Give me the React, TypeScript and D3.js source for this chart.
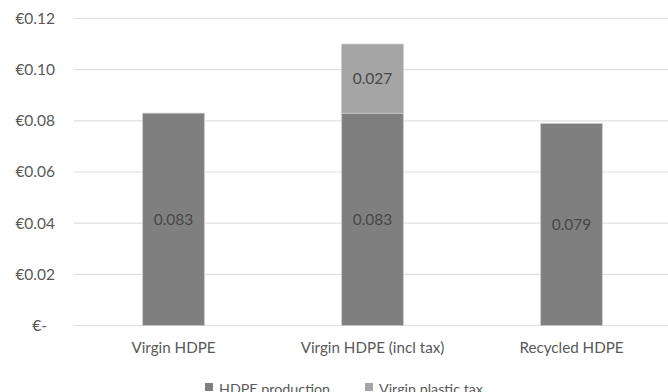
import React from "react";
import * as d3 from "d3";

// Categories and stacked series values (EUR per unit)
const categories = ["Virgin HDPE", "Virgin HDPE (incl tax)", "Recycled HDPE"];
const productionValues = [0.083, 0.083, 0.079];
const taxValues = [0, 0.027, 0];
const seriesNames = ["HDPE production", "Virgin plastic tax"];
const yTicks = [0, 0.02, 0.04, 0.06, 0.08, 0.1, 0.12];

const WIDTH = 668;
const HEIGHT = 392;
const FONT = "Lato, 'Open Sans', sans-serif";
const FS = 15.2;
const LEGEND_FS = 14.3;
const TEXT = "#595959";
const COLORS = ["#7f7f7f", "#a5a5a5"];

export default function App() {
  const x = d3
    .scaleBand<string>()
    .domain(categories)
    .range([74, 671])
    .paddingInner(0.69)
    .paddingOuter(0.345);
  const y = d3.scaleLinear().domain([0, 0.12]).range([325.5, 18.5]);

  const rows = categories.map((c, i) => ({
    category: c,
    production: productionValues[i],
    tax: taxValues[i],
  }));
  const stack = d3.stack<any>().keys(["production", "tax"]);
  const layers = stack(rows);

  const fmtTick = (v: number) => (v === 0 ? "€-" : "€" + d3.format(".2f")(v));

  return (
    <div style={{ position: "fixed", left: 0, top: 0 }}>
      <svg width={WIDTH} height={HEIGHT} style={{ display: "block", background: "#fff" }}>
        {/* gridlines */}
        {yTicks.map((t) => (
          <line
            key={"g" + t}
            x1={74}
            x2={WIDTH}
            y1={y(t)}
            y2={y(t)}
            stroke="#e0e0e0"
            strokeWidth={1.2}
          />
        ))}
        {/* y tick labels */}
        {yTicks.map((t) => (
          <text
            key={"t" + t}
            x={t === 0 ? 47 : 55}
            y={y(t)}
            dy="0.35em"
            textAnchor="end"
            fontFamily={FONT}
            fontSize={15.5}
            fill={TEXT}
          >
            {fmtTick(t)}
          </text>
        ))}
        {/* stacked bars */}
        {layers.map((layer, li) =>
          layer.map((d, i) => {
            const h = y(d[0]) - y(d[1]);
            if (h <= 0) return null;
            return (
              <rect
                key={li + "-" + i}
                x={x(categories[i])}
                y={y(d[1])}
                width={x.bandwidth()}
                height={h}
                fill={COLORS[li]}
                stroke="#c8c8c8"
                strokeWidth={0.8}
              />
            );
          })
        )}
        {/* value labels */}
        {layers.map((layer, li) =>
          layer.map((d, i) => {
            const v = d[1] - d[0];
            if (v <= 0) return null;
            return (
              <text
                key={"v" + li + "-" + i}
                x={(x(categories[i]) as number) + x.bandwidth() / 2}
                y={y((d[0] + d[1]) / 2)}
                dy="0.35em"
                textAnchor="middle"
                fontFamily={FONT}
                fontSize={15.5}
                fill="#474747"
              >
                {d3.format(".3f")(v)}
              </text>
            );
          })
        )}
        {/* category labels */}
        {categories.map((c) => (
          <text
            key={"c" + c}
            x={(x(c) as number) + x.bandwidth() / 2}
            y={353}
            textAnchor="middle"
            fontFamily={FONT}
            fontSize={FS}
            fill={TEXT}
          >
            {c}
          </text>
        ))}
        {/* legend */}
        {seriesNames.map((s, i) => {
          const lx = i === 0 ? 205 : 365;
          return (
            <g key={"l" + s}>
              <rect x={lx} y={383} width={8} height={8} fill={COLORS[i]} />
              <text
                x={lx + 14}
                y={394}
                fontFamily={FONT}
                fontSize={LEGEND_FS}
                fill={TEXT}
              >
                {s}
              </text>
            </g>
          );
        })}
      </svg>
    </div>
  );
}
